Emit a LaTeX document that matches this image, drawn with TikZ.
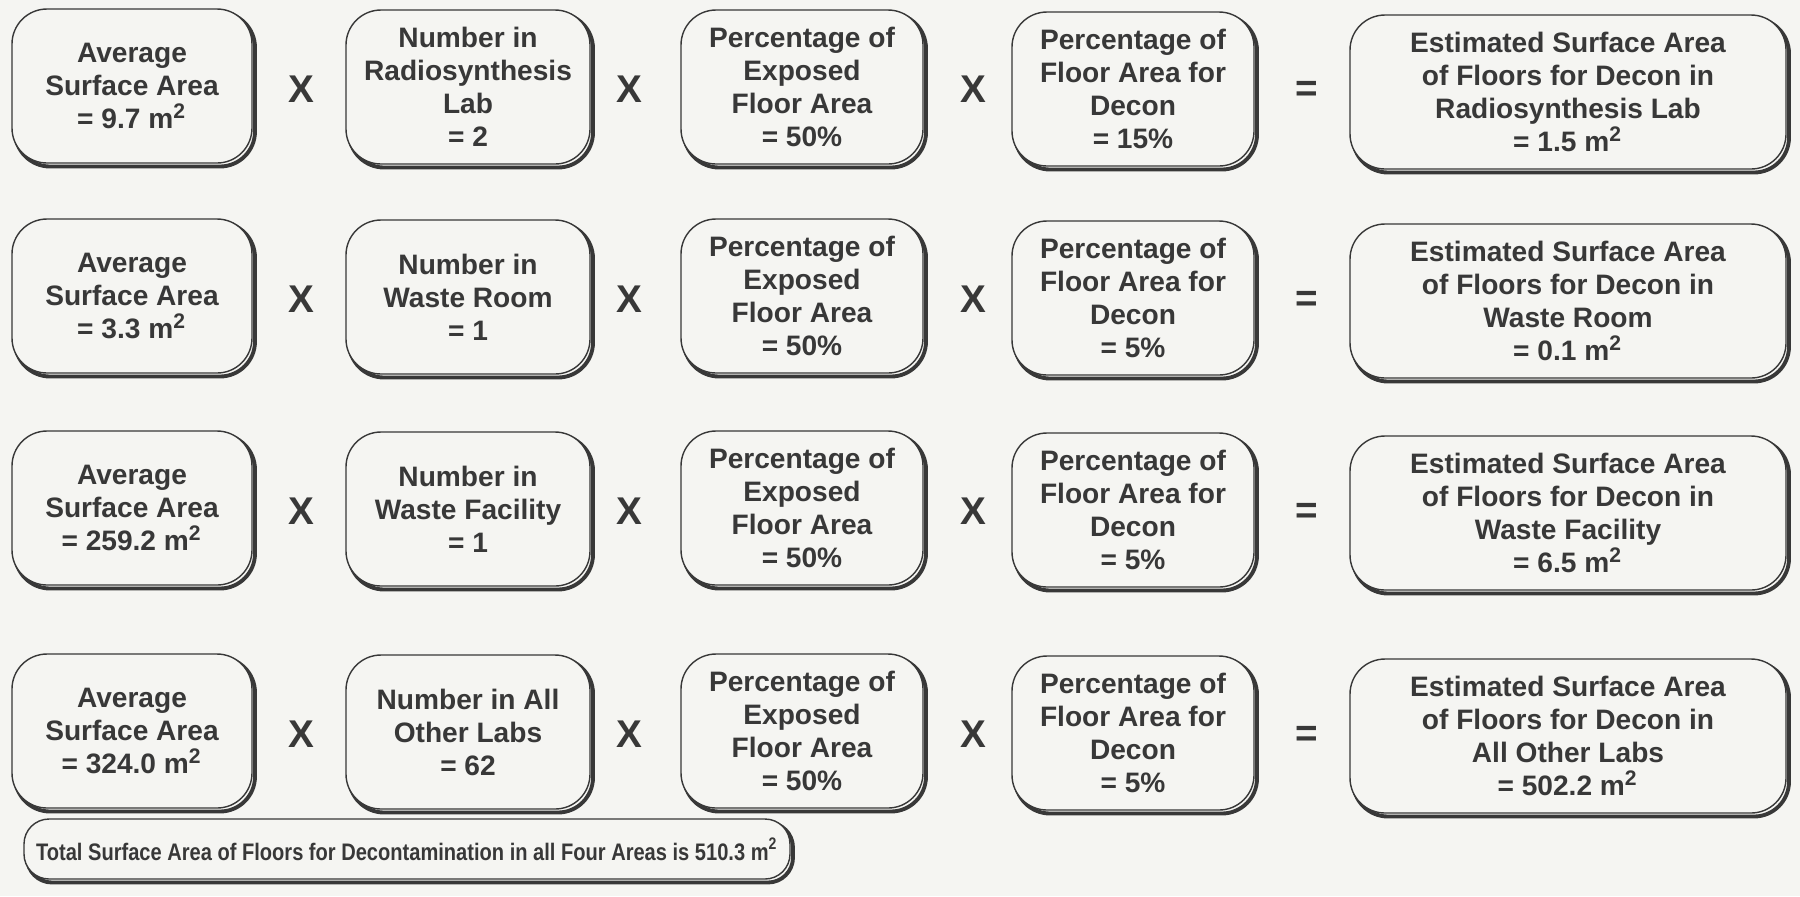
\documentclass[tikz,border=0pt]{standalone}
\usepackage{fontspec}
\usepackage{graphicx}
\setmainfont{Liberation Sans}
\usetikzlibrary{shadows}
\definecolor{paper}{rgb}{0.96,0.96,0.95}
\definecolor{ink}{rgb}{0.22,0.22,0.22}

\begin{document}
\begin{tikzpicture}[x=0.1mm,y=-0.1mm,
    calcbox/.style={draw=ink, line width=0.4pt, fill=paper, rounded corners=3.5mm,
      align=center, text=ink, font=\fontsize{8}{9.4}\selectfont\bfseries,
      minimum height=15.4mm, inner sep=0pt,
      general shadow={shadow xshift=0.3mm, shadow yshift=-0.35mm, draw=ink, line width=1.1pt}},
    avgbox/.style={calcbox, minimum width=24.0mm},
    numbox/.style={calcbox, minimum width=24.4mm},
    pctbox/.style={calcbox, minimum width=24.2mm},
    estbox/.style={calcbox, minimum width=43.6mm},
    op/.style={text=ink, font=\fontsize{11}{12}\selectfont\bfseries}]
    \fill[paper] (0,0) rectangle (1800,896);
    \useasboundingbox (0,0) rectangle (1800,896);

    \def\xa{132}
    \def\xb{468}
    \def\xc{802}
    \def\xd{1133}
    \def\xe{1568}

    % radiosynthesis lab
    \node[avgbox] (avg1) at (\xa,86) {Average\\Surface Area\\= 9.7 m\textsuperscript{2}};
    \node[op] (t11) at (301,89) {X};
    \node[numbox] (num1) at (\xb,87) {Number in\\Radiosynthesis\\Lab\\= 2};
    \node[op] (t12) at (629,89) {X};
    \node[pctbox] (exp1) at (\xc,87) {Percentage of\\Exposed\\Floor Area\\= 50\%};
    \node[op] (t13) at (973,89) {X};
    \node[pctbox] (dec1) at (\xd,89) {Percentage of\\Floor Area for\\Decon\\= 15\%};
    \node[op] (eq1) at (1307,91) {=};
    \node[estbox] (est1) at (\xe,92) {Estimated Surface Area\\of Floors for Decon in\\Radiosynthesis Lab\\= 1.5 m\textsuperscript{2}};

    % waste room
    \node[avgbox] (avg2) at (\xa,296) {Average\\Surface Area\\= 3.3 m\textsuperscript{2}};
    \node[op] (t21) at (301,299) {X};
    \node[numbox] (num2) at (\xb,297) {Number in\\Waste Room\\= 1};
    \node[op] (t22) at (629,299) {X};
    \node[pctbox] (exp2) at (\xc,296) {Percentage of\\Exposed\\Floor Area\\= 50\%};
    \node[op] (t23) at (973,299) {X};
    \node[pctbox] (dec2) at (\xd,298) {Percentage of\\Floor Area for\\Decon\\= 5\%};
    \node[op] (eq2) at (1307,301) {=};
    \node[estbox] (est2) at (\xe,301) {Estimated Surface Area\\of Floors for Decon in\\Waste Room\\= 0.1 m\textsuperscript{2}};

    % waste facility
    \node[avgbox] (avg3) at (\xa,508) {Average\\Surface Area\\= 259.2 m\textsuperscript{2}};
    \node[op] (t31) at (301,511) {X};
    \node[numbox] (num3) at (\xb,509) {Number in\\Waste Facility\\= 1};
    \node[op] (t32) at (629,511) {X};
    \node[pctbox] (exp3) at (\xc,508) {Percentage of\\Exposed\\Floor Area\\= 50\%};
    \node[op] (t33) at (973,511) {X};
    \node[pctbox] (dec3) at (\xd,510) {Percentage of\\Floor Area for\\Decon\\= 5\%};
    \node[op] (eq3) at (1307,513) {=};
    \node[estbox] (est3) at (\xe,513) {Estimated Surface Area\\of Floors for Decon in\\Waste Facility\\= 6.5 m\textsuperscript{2}};

    % all other labs
    \node[avgbox] (avg4) at (\xa,731) {Average\\Surface Area\\= 324.0 m\textsuperscript{2}};
    \node[op] (t41) at (301,734) {X};
    \node[numbox] (num4) at (\xb,732) {Number in All\\Other Labs\\= 62};
    \node[op] (t42) at (629,734) {X};
    \node[pctbox] (exp4) at (\xc,731) {Percentage of\\Exposed\\Floor Area\\= 50\%};
    \node[op] (t43) at (973,734) {X};
    \node[pctbox] (dec4) at (\xd,733) {Percentage of\\Floor Area for\\Decon\\= 5\%};
    \node[op] (eq4) at (1307,736) {=};
    \node[estbox] (est4) at (\xe,736) {Estimated Surface Area\\of Floors for Decon in\\All Other Labs\\= 502.2 m\textsuperscript{2}};

    \node[calcbox, minimum width=76.6mm, minimum height=6.0mm, rounded corners=2.5mm,
      font=\fontsize{6.8}{8}\selectfont\bfseries] (total) at (407,849)
      {\scalebox{0.84}[1]{Total Surface Area of Floors for Decontamination in all Four Areas is 510.3 m\textsuperscript{2}}};
\end{tikzpicture}
\end{document}
